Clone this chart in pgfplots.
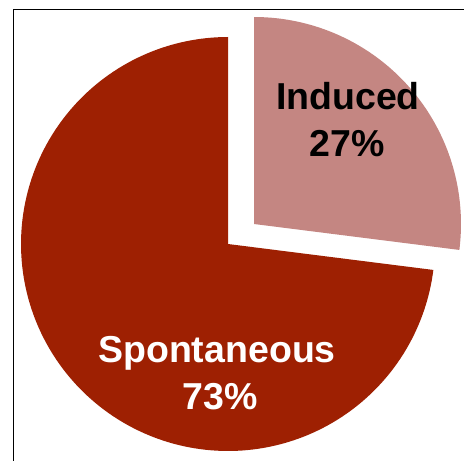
\documentclass[border=0pt]{standalone}
\usepackage{pgfplots}
\usepackage{pgfplotstable}
\pgfplotsset{compat=1.18}
\usepackage{fontspec}
\setmainfont{Liberation Sans}
\definecolor{spont}{RGB}{158,32,2}
\definecolor{induc}{RGB}{196,134,130}
\pgfplotstableread{
label value
Spontaneous 73
Induced 27
}\piedata
\begin{document}
\begin{tikzpicture}
\pgfplotstablegetelem{1}{value}\of\piedata
\pgfmathsetmacro\ia{90-3.6*\pgfplotsretval}
\pgfmathsetmacro\sb{360+\ia}
\path[use as bounding box] (0,0) rectangle (464pt,461pt);
\begin{axis}[
  at={(0pt,0pt)}, anchor=south west,
  scale only axis, width=464pt, height=461pt,
  xmin=0, xmax=464, ymin=0, ymax=461,
  hide axis, clip=false,
]
% Spontaneous sector
\addplot[fill=spont, draw=none, domain=90:\sb, samples=181, variable=\t]
  ({228+207*cos(\t)},{217+207*sin(\t)}) -- (axis cs:228,217) -- cycle;
% Induced sector (exploded)
\addplot[fill=induc, draw=none, domain=\ia:90, samples=81, variable=\t]
  ({254+207*cos(\t)},{237+207*sin(\t)}) -- (axis cs:254,237) -- cycle;
% frame
\draw[black, line width=0.9pt] (axis cs:13,-5) -- (axis cs:13,452) -- (axis cs:470,452);
% labels
\node[anchor=base, text=black, font=\fontsize{37.5}{44}\selectfont\bfseries] at (axis cs:348,351) {Induced};
\node[anchor=base, text=black, font=\fontsize{37.5}{44}\selectfont\bfseries] at (axis cs:347,304) {27\%};
\node[anchor=base, text=white, font=\fontsize{37.5}{44}\selectfont\bfseries] at (axis cs:217,98) {Spontaneous};
\node[anchor=base, text=white, font=\fontsize{37.5}{44}\selectfont\bfseries] at (axis cs:220,51) {73\%};
\end{axis}
\end{tikzpicture}
\end{document}
